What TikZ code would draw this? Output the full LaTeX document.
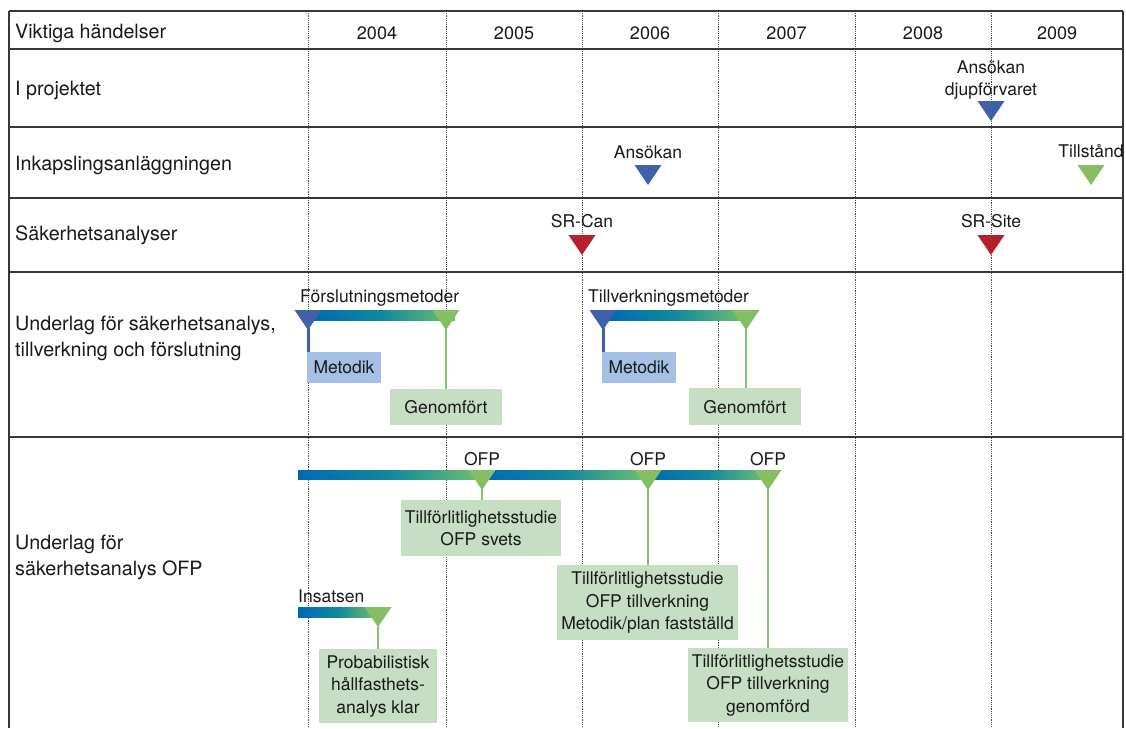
\documentclass[tikz,border=0pt]{standalone}
\usepackage{fontspec}
\setmainfont{TeX Gyre Heros}
\definecolor{gridline}{RGB}{55,55,55}
\definecolor{dotline}{RGB}{70,70,70}
\definecolor{mblue}{RGB}{64,96,170}
\definecolor{mred}{RGB}{180,32,44}
\definecolor{mgreen}{RGB}{134,190,100}
\definecolor{sgreen}{RGB}{132,196,108}
\definecolor{barblue}{RGB}{0,104,180}
\definecolor{barteal}{RGB}{18,136,156}
\definecolor{bargreen}{RGB}{112,192,110}
\definecolor{boxblue}{RGB}{164,192,228}
\definecolor{boxgreen}{RGB}{197,222,196}
\definecolor{ink}{RGB}{25,25,25}
\begin{document}
\begin{tikzpicture}[x=1pt,y=-1pt,
  rowlab/.style={anchor=base west,inner sep=0pt,font=\fontsize{19.7}{26}\selectfont,text=ink,align=left},
  yearlab/.style={anchor=base,inner sep=0pt,font=\fontsize{18}{22}\selectfont,text=ink},
  evlab/.style={anchor=base,inner sep=0pt,font=\fontsize{17.5}{22}\selectfont,text=ink,align=center},
  note/.style={anchor=north,inner sep=0pt,font=\fontsize{17.5}{22.5}\selectfont,text=ink,align=center},
  bluebox/.style={note,fill=boxblue},
  greenbox/.style={note,fill=boxgreen},
  grid/.style={draw=gridline,line width=1.8pt},
  yearsep/.style={draw=dotline,line width=0.9pt,dash pattern=on 1.2pt off 1pt},
  stemblue/.style={draw=mblue,line width=3pt},
  stemgreen/.style={draw=sgreen,line width=2.8pt},
  bar/.style={left color=barblue,right color=bargreen,middle color=barteal},
  marker/.pic={\fill[pic actions] (-13.5,0) -- (13.5,0) -- (0,20) -- cycle;
               \coordinate (-apex) at (0,18);}
]
\useasboundingbox (0,0) rectangle (1126,728);

% year separators
\foreach \x in {308,446,582,718,855,991}
  \draw[yearsep] (\x,11) -- (\x,728);

% table frame and row rules
\foreach \y in {11,49,127,198,272,437}
  \draw[grid] (9,\y) -- (1123,\y);
\draw[grid] (9,11) -- (9,728);
\draw[grid] (1123,11) -- (1123,728);

% header
\node[rowlab] (hdr) at (15,38.5) {Viktiga händelser};
\node[yearlab] (y2004) at (377,39.5) {2004};
\node[yearlab] (y2005) at (514,39.5) {2005};
\node[yearlab] (y2006) at (650,39.5) {2006};
\node[yearlab] (y2007) at (786.5,39.5) {2007};
\node[yearlab] (y2008) at (923,39.5) {2008};
\node[yearlab] (y2009) at (1057,39.5) {2009};

% row labels
\node[rowlab] (r1) at (15,95.5) {I projektet};
\node[rowlab] (r2) at (15,170) {Inkapslingsanläggningen};
\node[rowlab] (r3) at (15,240) {Säkerhetsanalyser};
\node[rowlab,anchor=west] (r4) at (15,338) {Underlag för säkerhetsanalys,\\tillverkning och förslutning};
\node[rowlab,anchor=west] (r5) at (15,557) {Underlag för\\säkerhetsanalys OFP};

% single events (base of a two-line label is its last line)
\node[evlab] (ansDj) at (991,95.5) {Ansökan\\djupförvaret};
\pic[fill=mblue] (mDj) at (991,101) {marker};
\node[evlab] (ansInk) at (648,158) {Ansökan};
\pic[fill=mblue] (mInk) at (648,165) {marker};
\node[evlab] (tills) at (1091,157.5) {Tillstånd};
\pic[fill=mgreen] (mTill) at (1091,165) {marker};
\node[evlab] (srcan) at (582,227.5) {SR-Can};
\pic[fill=mred] (mCan) at (582,235) {marker};
\node[evlab] (srsite) at (991,227.5) {SR-Site};
\pic[fill=mred] (mSite) at (991,235) {marker};

% closure and manufacturing methods
\node[evlab,anchor=base west] (forsl) at (300,302) {Förslutningsmetoder};
\shade[bar] (308,310) rectangle (455,320);
\node[bluebox,minimum width=74pt,minimum height=31pt] (met1) at (344,352) {Metodik};
\node[greenbox,minimum width=112pt,minimum height=36pt] (gen1) at (446,389) {Genomfört};
\pic[fill=mblue] (fA) at (308,310) {marker};
\pic[fill=mgreen] (fB) at (446,310) {marker};
\draw[stemblue] (fA-apex) -- (fA-apex |- met1.north);
\draw[stemgreen] (fB-apex) -- (gen1.north);

\node[evlab,anchor=base west] (tillv) at (588,302) {Tillverkningsmetoder};
\shade[bar] (603,310) rectangle (746,320);
\node[bluebox,minimum width=74pt,minimum height=31pt] (met2) at (639,352) {Metodik};
\node[greenbox,minimum width=112pt,minimum height=37pt] (gen2) at (745,388) {Genomfört};
\pic[fill=mblue] (tA) at (603,310) {marker};
\pic[fill=mgreen] (tB) at (746,310) {marker};
\draw[stemblue] (tA-apex) -- (tA-apex |- met2.north);
\draw[stemgreen] (tB-apex) -- (tB-apex |- gen2.north);

% OFP studies
\shade[bar] (298,470) rectangle (482,479);
\shade[bar] (482,470) rectangle (648,479);
\shade[bar] (648,470) rectangle (768,479);
\node[evlab] (ofp1) at (482,465) {OFP};
\node[evlab] (ofp2) at (648,465) {OFP};
\node[evlab] (ofp3) at (768,465) {OFP};
\node[greenbox,minimum width=160pt,minimum height=56pt] (svets) at (481,500)
  {Tillförlitlighetsstudie\\OFP svets};
\node[greenbox,minimum width=181pt,minimum height=75pt] (plan) at (647.5,565)
  {Tillförlitlighetsstudie\\OFP tillverkning\\Metodik/plan fastställd};
\node[greenbox,minimum width=160pt,minimum height=74pt] (klar) at (768,648)
  {Tillförlitlighetsstudie\\OFP tillverkning\\genomförd};
\pic[fill=mgreen] (oA) at (482,470) {marker};
\pic[fill=mgreen] (oB) at (648,470) {marker};
\pic[fill=mgreen] (oC) at (768,470) {marker};
\draw[stemgreen] (oA-apex) -- (oA-apex |- svets.north);
\draw[stemgreen] (oB-apex) -- (oB-apex |- plan.north);
\draw[stemgreen] (oC-apex) -- (klar.north);

% canister insert
\node[evlab,anchor=base west] (insats) at (298,602.5) {Insatsen};
\shade[bar] (298,607) rectangle (378,617);
\node[greenbox,minimum width=118pt,minimum height=74pt] (prob) at (378,649)
  {Probabilistisk\\hållfasthets-\\analys klar};
\pic[fill=mgreen] (iA) at (378,607) {marker};
\draw[stemgreen] (iA-apex) -- (prob.north);
\end{tikzpicture}
\end{document}
